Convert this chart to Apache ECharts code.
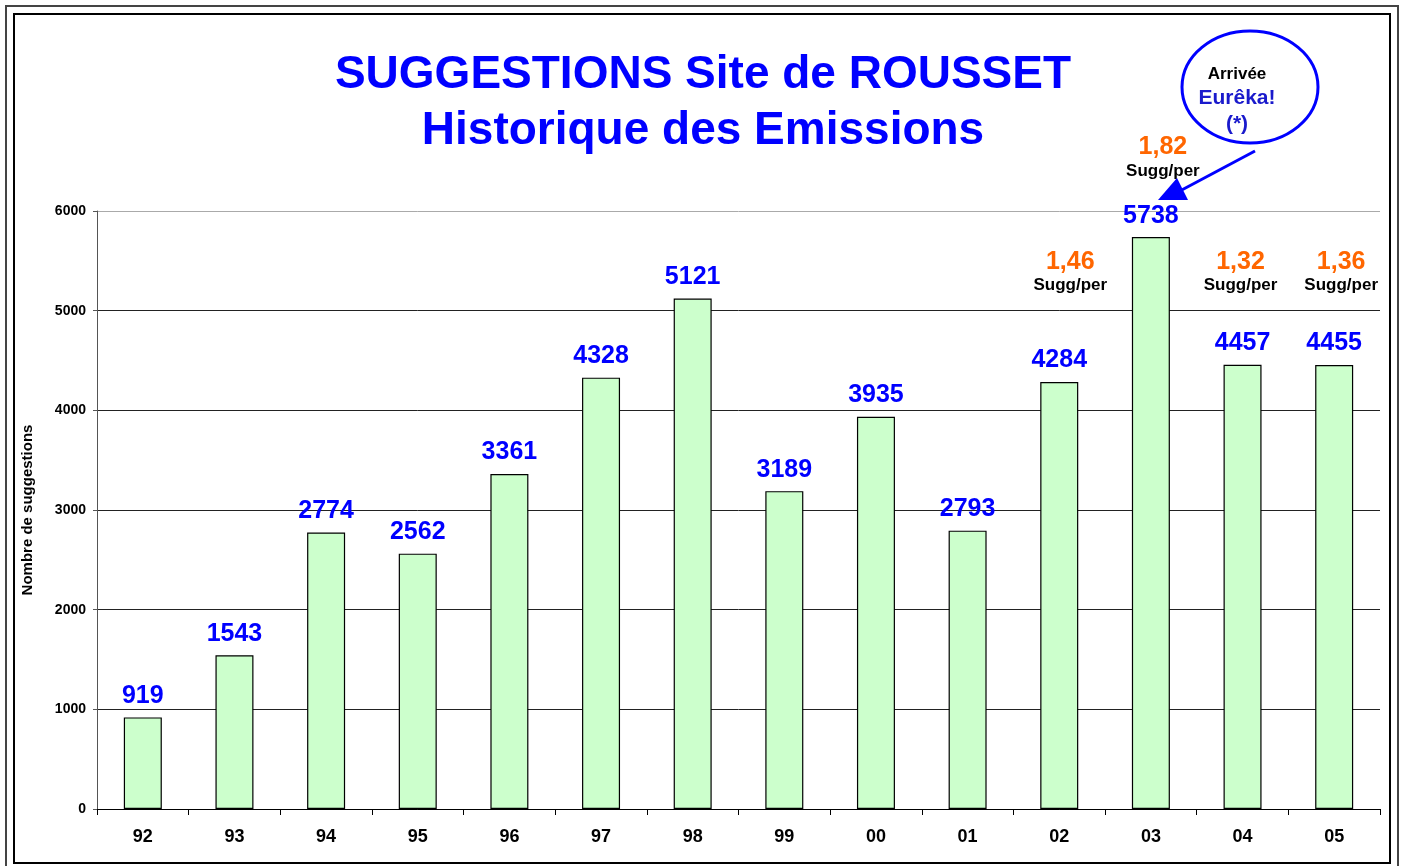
<!DOCTYPE html>
<html>
<head>
<meta charset="utf-8">
<script src="https://cdn.jsdelivr.net/npm/echarts@6/dist/echarts.min.js"></script>
<style>
  html, body { margin: 0; padding: 0; background: #fff; }
  #chart { width: 1406px; height: 866px; }
</style>
</head>
<body>
<div id="chart"></div>
<script>
// Years (two-digit) and number of suggestions issued per year
const years = ['92', '93', '94', '95', '96', '97', '98', '99', '00', '01', '02', '03', '04', '05'];
const suggestions = [919, 1543, 2774, 2562, 3361, 4328, 5121, 3189, 3935, 2793, 4284, 5738, 4457, 4455];

// Suggestions per person, shown for the later years
const ratioYears = ['02', '03', '04', '05'];
const ratioValues = ['1,46', '1,82', '1,32', '1,36'];
const ratioUnit = 'Sugg/per';

// Y axis ticks
const yTicks = [0, 1000, 2000, 3000, 4000, 5000, 6000];

const FONT = 'Arial, "Liberation Sans", Helvetica, sans-serif';
const BLUE = '#0000ff';
const ORANGE = '#ff6600';

// vertical anchor (axis units) and horizontal nudge of each ratio note
const ratioAnchor = { '02': [5380, 11], '03': [6530, 12], '04': [5380, -2], '05': [5380, 7] };

const ratioData = ratioYears.map((y, i) => ({
  value: [y, ratioAnchor[y][0]],
  label: { offset: [ratioAnchor[y][1], 0] },
  ratio: ratioValues[i]
}));

const chart = echarts.init(document.getElementById('chart'), null, { renderer: 'canvas' });

chart.setOption({
  animation: false,
  backgroundColor: '#ffffff',
  title: {
    text: 'SUGGESTIONS Site de ROUSSET\nHistorique des Emissions',
    left: 'center',
    top: 42,
    textStyle: {
      fontFamily: FONT,
      fontSize: 46,
      fontWeight: 'bold',
      color: BLUE,
      lineHeight: 56
    }
  },
  grid: { left: 97, right: 26, top: 211, bottom: 57, containLabel: false },
  xAxis: {
    type: 'category',
    data: years,
    axisLine: { lineStyle: { color: '#000', width: 1 } },
    axisTick: { show: true, length: 6, inside: false, lineStyle: { color: '#000' } },
    axisLabel: {
      fontFamily: FONT, fontSize: 18, fontWeight: 'bold', color: '#000', margin: 19
    }
  },
  yAxis: {
    type: 'value',
    min: yTicks[0],
    max: yTicks[yTicks.length - 1],
    interval: 1000,
    name: 'Nombre de suggestions',
    nameLocation: 'middle',
    nameRotate: 90,
    nameGap: 62,
    nameTextStyle: { fontFamily: FONT, fontSize: 15, fontWeight: 'bold', color: '#000' },
    axisLine: { show: true, lineStyle: { color: '#555', width: 1 } },
    axisTick: { show: true, length: 4, lineStyle: { color: '#555' } },
    axisLabel: {
      fontFamily: FONT, fontSize: 14, fontWeight: 'bold', color: '#000', margin: 11,
      formatter: v => String(v)
    },
    splitLine: {
      show: true,
      lineStyle: { color: ['#222', '#222', '#222', '#222', '#222', '#222', '#aaa'], width: 1 }
    }
  },
  series: [
    {
      type: 'bar',
      data: suggestions,
      barWidth: 38,
      itemStyle: { color: '#ccffcc', borderColor: '#000', borderWidth: 1.2 },
      label: {
        show: true,
        position: 'top',
        distance: 9,
        fontFamily: FONT,
        fontSize: 25,
        fontWeight: 'bold',
        color: BLUE
      },
      z: 2
    },
    {
      type: 'scatter',
      data: ratioData,
      symbolSize: 0,
      clip: false,
      silent: true,
      itemStyle: { opacity: 1 },
      label: {
        show: true,
        position: 'inside',
        opacity: 1,
        color: '#000',
        textBorderWidth: 0,
        formatter: p => '{r|' + p.data.ratio + '}\n{s|' + ratioUnit + '}',
        rich: {
          r: { fontFamily: FONT, fontSize: 25, fontWeight: 'bold', color: ORANGE, lineHeight: 26, align: 'center' },
          s: { fontFamily: FONT, fontSize: 17, fontWeight: 'bold', color: '#000', lineHeight: 22, align: 'center' }
        }
      },
      emphasis: { disabled: true },
      z: 3
    }
  ],
  graphic: [
    // double frame around the page
    { type: 'rect', shape: { x: 6, y: 6, width: 1392, height: 872 }, style: { fill: 'none', stroke: '#444', lineWidth: 2 }, silent: true },
    { type: 'rect', shape: { x: 14, y: 14, width: 1376, height: 849 }, style: { fill: 'none', stroke: '#000', lineWidth: 2 }, silent: true },
    // callout bubble: arrival of Eurêka!
    { type: 'ellipse', shape: { cx: 1250, cy: 87, rx: 68, ry: 56 }, style: { fill: '#fff', stroke: BLUE, lineWidth: 3 }, z: 10 },
    { type: 'text', x: 1237, y: 74, style: { text: 'Arrivée', font: 'bold 17px ' + FONT, fill: '#000', textAlign: 'center', textVerticalAlign: 'middle' }, z: 11 },
    { type: 'text', x: 1237, y: 98, style: { text: 'Eurêka!', font: 'bold 21px ' + FONT, fill: '#1a1acc', textAlign: 'center', textVerticalAlign: 'middle' }, z: 11 },
    { type: 'text', x: 1237, y: 124, style: { text: '(*)', font: 'bold 21px ' + FONT, fill: '#1a1acc', textAlign: 'center', textVerticalAlign: 'middle' }, z: 11 },
    { type: 'line', shape: { x1: 1255, y1: 151, x2: 1178, y2: 192 }, style: { stroke: BLUE, lineWidth: 3 }, z: 10 },
    { type: 'polygon', shape: { points: [[1177, 178], [1158, 200], [1188, 200]] }, style: { fill: BLUE }, z: 10 }
  ]
});
</script>
</body>
</html>
